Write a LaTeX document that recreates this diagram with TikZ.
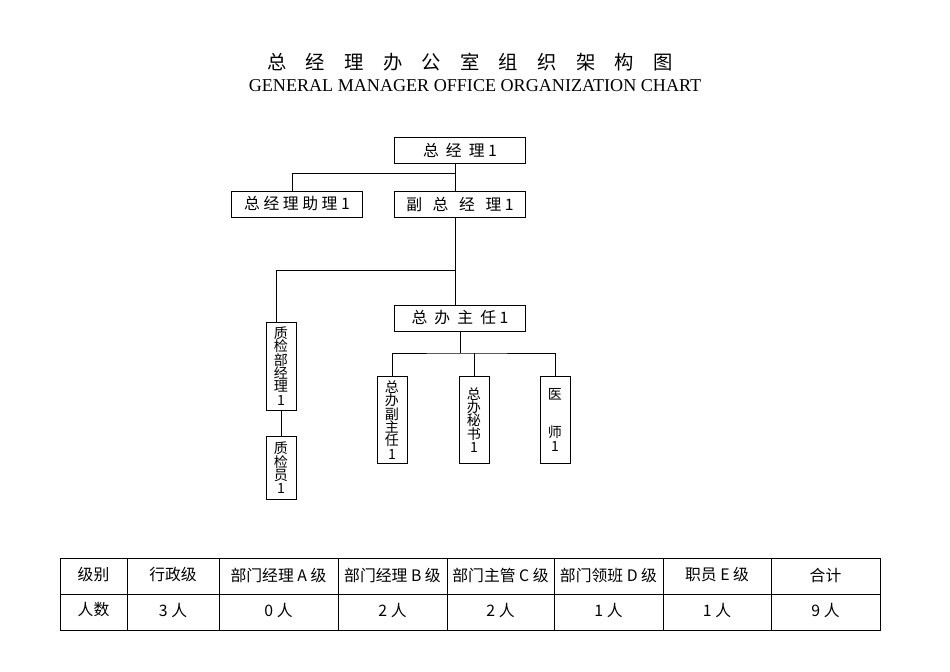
\documentclass[tikz,border=0pt]{standalone}
\usepackage{fontspec}
\setmainfont{Liberation Serif}
\newfontfamily\cjk{Noto Sans CJK SC}
\begin{document}
\begin{tikzpicture}[x=0.02cm,y=-0.02cm,font=\fontsize{9}{11}\selectfont\cjk,
    hbox/.style={draw, minimum width=2.62cm, minimum height=0.52cm, inner sep=0pt},
    vbox/.style={draw, minimum width=0.6cm, text width=0.6cm, align=center, inner sep=0pt,
        font=\fontsize{8}{7.6}\selectfont\cjk},
    link/.style={line width=0.5pt}]
    \useasboundingbox (0,0) rectangle (950,672);
    % Title
    \node[font=\fontsize{11}{13}\selectfont\cjk] (title) at (470,62) {总\quad 经\quad 理\quad 办\quad 公\quad 室\quad 组\quad 织\quad 架\quad 构\quad 图};
    \node[font=\fontsize{10.3}{12}\selectfont\rmfamily] (subtitle) at (475,86) {GENERAL MANAGER OFFICE ORGANIZATION CHART};

    % Top levels
    \node[hbox] (gm) at (460,150) {总\ \ 经\ \ 理 1};
    \node[hbox] (asst) at (297,204) {总\ 经\ 理\ 助\ 理 1};
    \node[hbox] (vgm) at (460,204) {副\ \ \ 总\ \ \ 经\ \ \ 理 1};
    \node[hbox] (dir) at (460,318) {总\ \ 办\ \ 主\ \ 任 1};

    % Vertical boxes
    \node[vbox, minimum height=1.76cm] (qcm) at (281,366) {质\\检\\部\\经\\理\\1};
    \node[vbox, minimum height=1.26cm] (qc) at (281,468) {质\\检\\员\\1};
    \node[vbox, minimum height=1.74cm] (vdir) at (392,420) {总\\办\\副\\主\\任\\1};
    \node[vbox, minimum height=1.74cm] (sec) at (474,420) {总\\办\\秘\\书\\1};
    \node[vbox, minimum height=1.74cm] (doc) at (555,420) {医\\[14pt]师\\1};

    % Connectors
    \coordinate (j1) at (455,173);
    \coordinate (j2) at (455,270);
    \coordinate (j3) at (460,353);
    \draw[link] (gm.south -| j1) -- (j1) -| (asst.north -| 292,0);
    \draw[link] (j1) -- (vgm.north -| j1);
    \draw[link] (vgm.south -| j1) -- (dir.north -| j1);
    \draw[link] (j2) -| (qcm.north -| 276,0);
    \draw[link] (qcm) -- (qc);
    \draw[link] (dir.south -| j3) -- (j3);
    \draw[link] (vdir.north) |- (j3) -| (doc.north);
    \draw[link] (j3 -| sec.north) -- (sec.north);

    % Table
    \draw[link] (60,558) rectangle (880,630);
    \draw[link] (60,594) -- (880,594);
    \foreach \x in {127,219,338,447,554,663,771}
        \draw[link] (\x,558) -- (\x,630);
    \foreach \a/\b/\top/\bot in {60/127/级别/人数, 127/219/行政级/3 人, 219/338/部门经理 A 级/0 人,
        338/447/部门经理 B 级/2 人, 447/554/部门主管 C 级/2 人, 554/663/部门领班 D 级/1 人,
        663/771/职员 E 级/1 人, 771/880/合计/9 人} {
        \node (t\a) at ({(\a+\b)/2},575) {\top};
        \node (b\a) at ({(\a+\b)/2},610) {\bot};
    }
\end{tikzpicture}
\end{document}
